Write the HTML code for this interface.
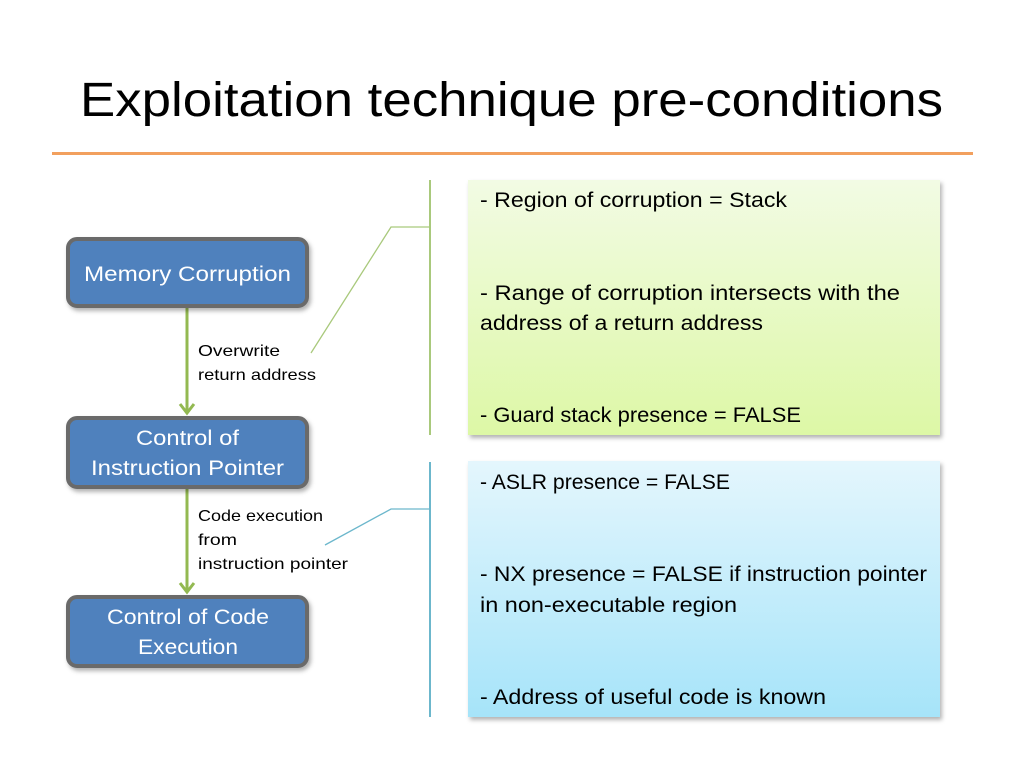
<!DOCTYPE html>
<html><head><meta charset="utf-8"><style>
html,body{margin:0;padding:0;background:#fff;}
body{width:1024px;height:768px;overflow:hidden;position:relative;font-family:"Liberation Sans",sans-serif;}
</style></head><body>
<svg width="1024" height="768" xmlns="http://www.w3.org/2000/svg" style="position:absolute;left:0;top:0">
<defs>
<linearGradient id="g1" x1="0" y1="0" x2="0" y2="1"><stop offset="0" stop-color="#f2fbe4"/><stop offset="1" stop-color="#ddf8a6"/></linearGradient>
<linearGradient id="g2" x1="0" y1="0" x2="0" y2="1"><stop offset="0" stop-color="#e4f6fd"/><stop offset="1" stop-color="#a6e4f9"/></linearGradient>
<filter id="sh" x="-10%" y="-10%" width="120%" height="130%"><feDropShadow dx="2" dy="3" stdDeviation="2" flood-color="#000" flood-opacity="0.3"/></filter>
</defs>
<text x="80" y="116" textLength="863" lengthAdjust="spacingAndGlyphs" font-family="Liberation Sans, sans-serif" font-size="48" fill="#000">Exploitation technique pre-conditions</text>
<rect x="52" y="152" width="921" height="3" fill="#f2a05e"/>

<rect x="468" y="180" width="472" height="255" fill="url(#g1)" filter="url(#sh)"/>
<rect x="468" y="461" width="472" height="256" fill="url(#g2)" filter="url(#sh)"/>

<g font-family="Liberation Sans, sans-serif" font-size="21" fill="#000" lengthAdjust="spacingAndGlyphs">
<text x="480" y="207" textLength="307" lengthAdjust="spacingAndGlyphs">- Region of corruption = Stack</text>
<text x="480" y="300" textLength="420" lengthAdjust="spacingAndGlyphs">- Range of corruption intersects with the</text>
<text x="480" y="330" textLength="283" lengthAdjust="spacingAndGlyphs">address of a return address</text>
<text x="480" y="422" textLength="321" lengthAdjust="spacingAndGlyphs">- Guard stack presence = FALSE</text>
<text x="480" y="489" textLength="250" lengthAdjust="spacingAndGlyphs">- ASLR presence = FALSE</text>
<text x="480" y="581" textLength="447" lengthAdjust="spacingAndGlyphs">- NX presence = FALSE if instruction pointer</text>
<text x="480" y="612" textLength="257" lengthAdjust="spacingAndGlyphs">in non-executable region</text>
<text x="480" y="704" textLength="346" lengthAdjust="spacingAndGlyphs">- Address of useful code is known</text>
</g>

<line x1="430" y1="180" x2="430" y2="435" stroke="#a9c97c" stroke-width="2"/>
<polyline points="311,353 391,227 430,227" fill="none" stroke="#a9c97c" stroke-width="1.3"/>
<line x1="430" y1="462" x2="430" y2="717" stroke="#6cb7cc" stroke-width="2"/>
<polyline points="325,545 391,509 430,509" fill="none" stroke="#6cb7cc" stroke-width="1.3"/>

<g stroke="#93b951" stroke-width="3" fill="none">
<line x1="187" y1="307" x2="187" y2="413"/>
<polyline points="180,404 187,413 194,404"/>
<line x1="187" y1="488" x2="187" y2="592"/>
<polyline points="180,583 187,592 194,583"/>
</g>

<g filter="url(#sh)">
<rect x="68" y="239" width="239" height="67" rx="9" fill="#4f81bd" stroke="#6b6b6b" stroke-width="4"/>
<rect x="68" y="418" width="239" height="69" rx="9" fill="#4f81bd" stroke="#6b6b6b" stroke-width="4"/>
<rect x="68" y="597" width="239" height="69" rx="9" fill="#4f81bd" stroke="#6b6b6b" stroke-width="4"/>
</g>
<g font-family="Liberation Sans, sans-serif" font-size="21" fill="#fff">
<text x="84" y="281" textLength="207" lengthAdjust="spacingAndGlyphs">Memory Corruption</text>
<text x="136" y="445" textLength="103" lengthAdjust="spacingAndGlyphs">Control of</text>
<text x="91" y="475" textLength="193" lengthAdjust="spacingAndGlyphs">Instruction Pointer</text>
<text x="107" y="624" textLength="162" lengthAdjust="spacingAndGlyphs">Control of Code</text>
<text x="138" y="654" textLength="100" lengthAdjust="spacingAndGlyphs">Execution</text>
</g>
<g font-family="Liberation Sans, sans-serif" font-size="16" fill="#000">
<text x="198" y="356" textLength="82" lengthAdjust="spacingAndGlyphs">Overwrite</text>
<text x="198" y="380" textLength="118" lengthAdjust="spacingAndGlyphs">return address</text>
<text x="198" y="521" textLength="125" lengthAdjust="spacingAndGlyphs">Code execution</text>
<text x="198" y="545" textLength="39" lengthAdjust="spacingAndGlyphs">from</text>
<text x="198" y="569" textLength="150" lengthAdjust="spacingAndGlyphs">instruction pointer</text>
</g>
</svg>
</body></html>
